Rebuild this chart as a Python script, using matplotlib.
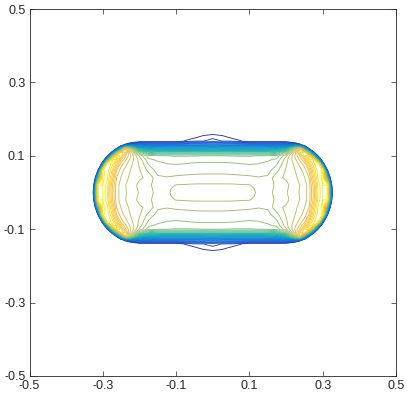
import numpy as np
import matplotlib
matplotlib.use('Agg')
import matplotlib.pyplot as plt
from matplotlib.colors import LinearSegmentedColormap

# field values on one quadrant (x >= 0, y >= 0); the picture is symmetric in x and y
# values below the lowest level mean "outside the body"
x_nodes = [0.0, 0.025, 0.05, 0.075, 0.1, 0.125, 0.15, 0.175, 0.2, 0.225,
           0.2375, 0.25, 0.2625, 0.275, 0.2875, 0.3, 0.3125, 0.325, 0.3375, 0.35]
y_nodes = [0.0, 0.01, 0.02, 0.04, 0.06, 0.08, 0.09, 0.1, 0.11, 0.12, 0.13, 0.14, 0.15, 0.16]

z_y000 = [0.695, 0.695, 0.693, 0.689, 0.683, 0.671, 0.666, 0.684, 0.698, 0.715, 0.727, 0.740, 0.760, 0.830, 0.930, 0.975, 0.990, 0.100, -0.66, -1.0]
z_y001 = [0.687, 0.687, 0.686, 0.684, 0.681, 0.670, 0.665, 0.682, 0.696, 0.714, 0.726, 0.740, 0.760, 0.830, 0.930, 0.975, 0.985, 0.067, -0.68, -1.0]
z_y002 = [0.678, 0.678, 0.678, 0.677, 0.676, 0.668, 0.664, 0.680, 0.694, 0.713, 0.725, 0.740, 0.760, 0.835, 0.935, 0.975, 0.980, 0.020, -0.70, -1.0]
z_y004 = [0.661, 0.661, 0.660, 0.658, 0.656, 0.652, 0.655, 0.695, 0.703, 0.720, 0.732, 0.748, 0.775, 0.870, 0.955, 0.985, 0.570, -0.25, -1.0, -1.0]
z_y006 = [0.640, 0.640, 0.639, 0.637, 0.635, 0.635, 0.640, 0.668, 0.703, 0.725, 0.740, 0.760, 0.800, 0.900, 0.965, 0.980, 0.090, -0.62, -1.0, -1.0]
z_y008 = [0.627, 0.627, 0.626, 0.624, 0.623, 0.624, 0.630, 0.645, 0.695, 0.735, 0.760, 0.790, 0.870, 0.945, 0.975, 0.180, -0.50, -1.0, -1.0, -1.0]
z_y009 = [0.617, 0.617, 0.616, 0.615, 0.615, 0.616, 0.620, 0.630, 0.690, 0.745, 0.780, 0.830, 0.925, 0.965, 0.430, -0.19, -1.0, -1.0, -1.0, -1.0]
z_y010 = [0.600, 0.600, 0.599, 0.598, 0.598, 0.600, 0.603, 0.610, 0.670, 0.755, 0.800, 0.885, 0.950, 0.570, 0.000, -0.80, -1.0, -1.0, -1.0, -1.0]
z_y011 = [0.500, 0.500, 0.500, 0.500, 0.500, 0.500, 0.505, 0.520, 0.600, 0.740, 0.845, 0.900, 0.560, 0.080, -0.45, -1.0, -1.0, -1.0, -1.0, -1.0]
z_y012 = [0.340, 0.330, 0.330, 0.330, 0.330, 0.330, 0.335, 0.350, 0.420, 0.700, 0.820, 0.450, 0.030, -0.60, -1.0, -1.0, -1.0, -1.0, -1.0, -1.0]
z_y013 = [0.180, 0.175, 0.170, 0.170, 0.170, 0.170, 0.170, 0.170, 0.170, 0.200, 0.090, -0.10, -0.60, -1.0, -1.0, -1.0, -1.0, -1.0, -1.0, -1.0]
z_y014 = [0.060, 0.050, 0.050, 0.030, 0.000, 0.000, 0.000, 0.000, 0.000, -0.134, -0.20, -0.60, -1.0, -1.0, -1.0, -1.0, -1.0, -1.0, -1.0, -1.0]
z_y015 = [0.045, 0.040, 0.020, 0.000, -0.30, -1.0, -1.0, -1.0, -1.0, -1.0, -1.0, -1.0, -1.0, -1.0, -1.0, -1.0, -1.0, -1.0, -1.0, -1.0]
z_y016 = [0.020, 0.012, -0.10, -0.30, -1.0, -1.0, -1.0, -1.0, -1.0, -1.0, -1.0, -1.0, -1.0, -1.0, -1.0, -1.0, -1.0, -1.0, -1.0, -1.0]

levels = np.arange(1, 40) / 40.0
ticks = [-0.5, -0.3, -0.1, 0.1, 0.3, 0.5]
tick_labels = ['-0.5', '-0.3', '-0.1', '0.1', '0.3', '0.5']

# parula-like colour map
parula_pts = [
    (0.2081, 0.1663, 0.5292), (0.0591, 0.3598, 0.8683), (0.0779, 0.5040, 0.8384),
    (0.0231, 0.6418, 0.7913), (0.1801, 0.7177, 0.6424), (0.5300, 0.7491, 0.4661),
    (0.8185, 0.7327, 0.3498), (0.9938, 0.7455, 0.2403), (0.9789, 0.8271, 0.1633),
    (0.9763, 0.9831, 0.0538),
]
parula_pos = [0.0, 7/63, 15/63, 23/63, 31/63, 39/63, 47/63, 53/63, 57/63, 1.0]
parula = LinearSegmentedColormap.from_list('parula', list(zip(parula_pos, parula_pts)))

# mirror the quadrant to the whole plane
zq = np.array([z_y000, z_y001, z_y002, z_y004, z_y006, z_y008, z_y009, z_y010,
               z_y011, z_y012, z_y013, z_y014, z_y015, z_y016])
xq = np.array(x_nodes)
yq = np.array(y_nodes)
x = np.concatenate([-xq[::-1], xq[1:]])
y = np.concatenate([-yq[::-1], yq[1:]])
zh = np.concatenate([zq[:, ::-1], zq[:, 1:]], axis=1)
z = np.concatenate([zh[::-1, :], zh[1:, :]], axis=0)

plt.rcParams['font.family'] = ['Liberation Sans', 'DejaVu Sans']
plt.rcParams['axes.unicode_minus'] = False

fig = plt.figure(figsize=(4.07, 4.01), dpi=100)
ax = fig.add_axes([29.5/407, 25/401, 366.5/407, 367/401])
ax.contour(x, y, z, levels=levels, cmap=parula, vmin=0, vmax=1, linewidths=0.65)

ax.set_xlim(-0.5, 0.5)
ax.set_ylim(-0.5, 0.5)
ax.set_xticks(ticks)
ax.set_xticklabels(tick_labels)
ax.set_yticks(ticks)
ax.set_yticklabels(tick_labels)
ax.tick_params(direction='in', top=True, right=True, length=3.5, width=0.5,
               colors='#262626', labelsize=9, pad=3)
for s in ax.spines.values():
    s.set_linewidth(0.6)
    s.set_color('#262626')

fig.savefig('out.png', dpi=100)
